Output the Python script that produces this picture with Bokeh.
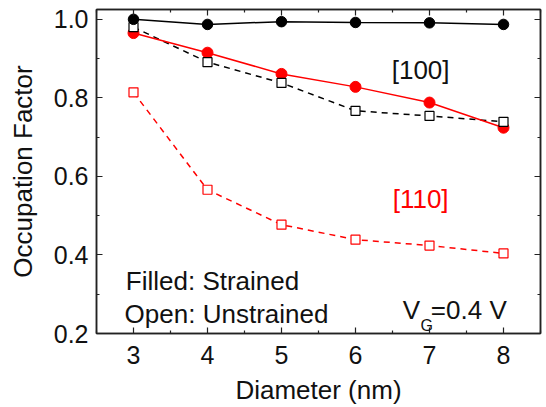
from bokeh.plotting import figure
from bokeh.models import FixedTicker, LinearAxis, Label, Range1d
from bokeh.embed import file_html
from bokeh.resources import INLINE

# Data
diameter = [3, 4, 5, 6, 7, 8]
strained_100 = [1.000, 0.987, 0.994, 0.992, 0.991, 0.987]
unstrained_100 = [0.980, 0.891, 0.838, 0.767, 0.754, 0.739]
strained_110 = [0.965, 0.915, 0.861, 0.828, 0.788, 0.724]
unstrained_110 = [0.814, 0.566, 0.477, 0.439, 0.424, 0.404]

x_ticks = [3, 4, 5, 6, 7, 8]
x_minor = [2.5, 3.5, 4.5, 5.5, 6.5, 7.5, 8.5]
y_ticks = [0.2, 0.4, 0.6, 0.8, 1.0]
y_minor = [0.3, 0.5, 0.7, 0.9]
y_labels = {0.2: "0.2", 0.4: "0.4", 0.6: "0.6", 0.8: "0.8", 1.0: "1.0"}

FONT = "Liberation Sans"
RED = "#ff0000"
BLACK = "#000000"

p = figure(width=544, height=407, output_backend="svg", toolbar_location=None,
           x_range=Range1d(2.5, 8.5), y_range=Range1d(0.2, 1.025),
           min_border_left=96, min_border_right=4, min_border_top=9, min_border_bottom=73)
p.grid.visible = False
p.background_fill_color = "white"
p.border_fill_color = "white"
p.outline_line_color = "#222222"
p.outline_line_width = 1.5

# dashed lines (unstrained)
p.line(diameter, unstrained_100, line_color=BLACK, line_width=1.5, line_dash="6 5")
p.line(diameter, unstrained_110, line_color=RED, line_width=1.5, line_dash="6 5")
# solid lines (strained)
p.line(diameter, strained_100, line_color=BLACK, line_width=1.5)
p.line(diameter, strained_110, line_color=RED, line_width=1.5)

# markers
p.scatter(diameter, strained_110, marker="circle", size=11, fill_color=RED, line_color=RED)
p.scatter(diameter, unstrained_110, marker="square", size=9, fill_color="white",
          line_color=RED, line_width=1.2)
p.scatter(diameter, unstrained_100, marker="square", size=9, fill_color="white",
          line_color=BLACK, line_width=1.2)
p.scatter(diameter, strained_100, marker="circle", size=10.5, fill_color=BLACK, line_color=BLACK)

def style_axis(ax, show_labels=True):
    ax.axis_line_color = "#222222"
    ax.axis_line_width = 1.5
    ax.major_tick_line_color = "#222222"
    ax.minor_tick_line_color = "#222222"
    ax.major_tick_line_width = 1.2
    ax.minor_tick_line_width = 1.2
    ax.major_tick_in = 6
    ax.major_tick_out = 0
    ax.minor_tick_in = 3
    ax.minor_tick_out = 0
    ax.major_label_text_font = FONT
    ax.major_label_text_font_size = "25px"
    ax.major_label_text_color = "#111111"
    ax.axis_label_text_font = FONT
    ax.axis_label_text_font_size = "26px"
    ax.axis_label_text_font_style = "normal"
    ax.axis_label_text_color = "#111111"
    if not show_labels:
        ax.major_label_text_font_size = "0px"
        ax.major_label_text_alpha = 0

p.xaxis.ticker = FixedTicker(ticks=x_ticks, minor_ticks=x_minor)
p.yaxis.ticker = FixedTicker(ticks=y_ticks, minor_ticks=y_minor)
p.yaxis.major_label_overrides = y_labels
for ax in p.xaxis + p.yaxis:
    style_axis(ax)
p.xaxis.axis_label = "Diameter (nm)"
p.yaxis.axis_label = "Occupation Factor"
p.xaxis.major_label_standoff = 12
p.xaxis.axis_label_standoff = 8
p.yaxis.major_label_standoff = 8
p.yaxis.axis_label_standoff = 13

top = LinearAxis(ticker=FixedTicker(ticks=x_ticks, minor_ticks=x_minor))
style_axis(top, show_labels=False)
top.major_label_standoff = 0
p.add_layout(top, "above")
right = LinearAxis(ticker=FixedTicker(ticks=y_ticks, minor_ticks=y_minor))
style_axis(right, show_labels=False)
right.major_label_standoff = 0
p.add_layout(right, "right")

def lab(x, y, text, color="#111111", size="26px", align="left", baseline="alphabetic"):
    p.add_layout(Label(x=x, y=y, text=text, text_color=color, text_font=FONT,
                       text_font_size=size, text_align=align, text_baseline=baseline))

lab(6.88, 0.872, "[100]", align="center", baseline="middle")
lab(6.88, 0.542, "[110]", color=RED, align="center", baseline="middle")
lab(2.896, 0.333, "Filled: Strained")
lab(2.88, 0.250, "Open: Unstrained")
lab(6.639, 0.261, "V")
lab(6.88, 0.220, "G", size="16px")
lab(7.018, 0.261, "=0.4 V")

open("out.html", "w").write(file_html(p, INLINE))
